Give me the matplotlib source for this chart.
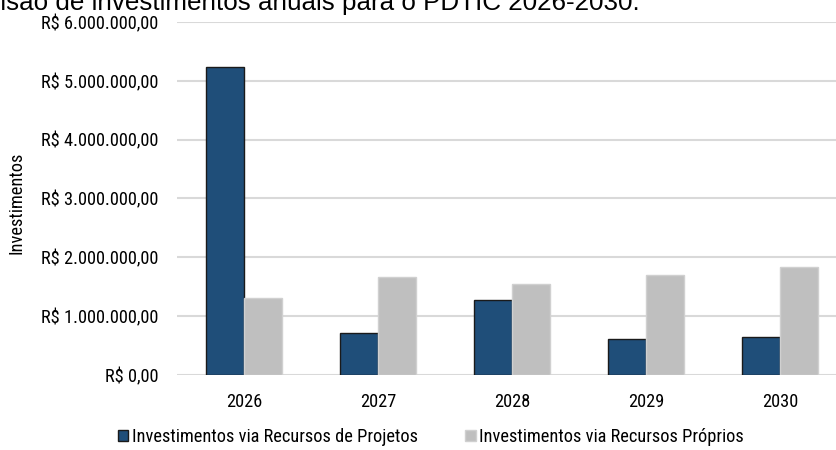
import matplotlib
matplotlib.use('Agg')
import matplotlib.pyplot as plt
from matplotlib.ticker import FuncFormatter
import numpy as np

# Data
years = ['2026', '2027', '2028', '2029', '2030']
recursos_projetos = [5240000, 710000, 1280000, 610000, 650000]
recursos_proprios = [1310000, 1670000, 1540000, 1700000, 1830000]
y_ticks = [0, 1000000, 2000000, 3000000, 4000000, 5000000, 6000000]

COLOR_PROJETOS = '#1F4E79'
COLOR_PROPRIOS = '#BFBFBF'
COLOR_GRID = '#D9D9D9'

plt.rcParams['font.family'] = ['Liberation Sans Narrow', 'Arial Narrow', 'Roboto Condensed',
                               'Archivo Narrow', 'Liberation Sans', 'DejaVu Sans']


def brl(v, pos=None):
    s = f'{v:,.2f}'
    s = s.replace(',', 'X').replace('.', ',').replace('X', '.')
    return f'R$ {s}'


W, H = 837, 450
fig = plt.figure(figsize=(W / 100, H / 100), dpi=100)
ax = fig.add_axes([177 / W, 75 / H, 670 / W, 353 / H])

x = np.arange(len(years))
w = 0.287
ax.bar(x - w / 2, recursos_projetos, w, color=COLOR_PROJETOS, edgecolor='#1a1a1a',
       linewidth=1.0, label='Investimentos via Recursos de Projetos', zorder=3)
ax.bar(x + w / 2, recursos_proprios, w, color=COLOR_PROPRIOS, edgecolor='#D0D0D0',
       linewidth=1.0, label='Investimentos via Recursos Próprios', zorder=3)

ax.set_xlim(-0.5, len(years) - 0.5)
ax.set_ylim(0, 6000000)
ax.set_yticks(y_ticks)
ax.yaxis.set_major_formatter(FuncFormatter(brl))
ax.set_xticks(x)
ax.set_xticklabels(years)
ax.grid(axis='y', color=COLOR_GRID, linewidth=1.5, zorder=0)
ax.set_axisbelow(True)
for s in ax.spines.values():
    s.set_visible(False)
ax.tick_params(axis='both', length=0, labelsize=13.2, colors='#000000')
ax.tick_params(axis='x', pad=13)
ax.tick_params(axis='y', pad=13.5)

fig.text(17 / W, 1 - 203 / H, 'Investimentos', rotation=90, ha='center', va='center', fontsize=13.2)

# cropped title at the top (only its lower part shows in the reference)
fig.text(640 / W, 1 - 10 / H, 'Previsão de investimentos anuais para o PDTIC 2026-2030.',
         ha='right', va='baseline', fontsize=18.7, family=['Liberation Sans', 'DejaVu Sans'])

fig.legend(loc='lower center', bbox_to_anchor=(431 / W, 0), ncol=2, frameon=False,
           fontsize=13.2, handlelength=0.55, handleheight=0.55, handletextpad=0.2,
           columnspacing=2.6, borderaxespad=0.1, borderpad=0.1)

plt.savefig('out.png', dpi=100)
plt.close()
